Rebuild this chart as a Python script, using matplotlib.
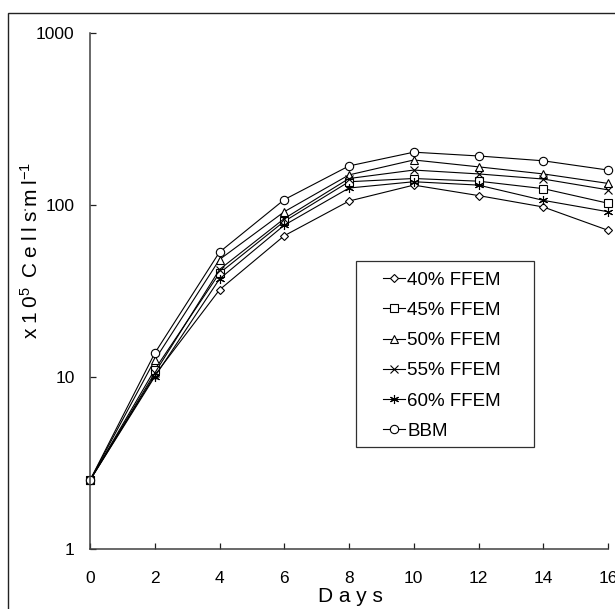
import matplotlib
matplotlib.use('Agg')
import matplotlib.pyplot as plt
from matplotlib.patches import Rectangle
from matplotlib.ticker import FixedLocator, NullLocator, FixedFormatter

plt.rcParams['font.family'] = ['Liberation Sans', 'DejaVu Sans']
plt.rcParams['mathtext.fontset'] = 'custom'
plt.rcParams['mathtext.rm'] = 'Liberation Sans'
plt.rcParams['mathtext.it'] = 'Liberation Sans'

# growth data (x10^5 cells per ml)
days = [0, 2, 4, 6, 8, 10, 12, 14, 16]
ffem40 = [2.5, 10.2, 32, 66, 105, 130, 113, 97, 71]
ffem45 = [2.5, 11.0, 40, 80, 136, 142, 137, 124, 102]
ffem50 = [2.5, 12.5, 48, 91, 149, 182, 166, 151, 133]
ffem55 = [2.5, 10.5, 42, 83, 142, 159, 151, 141, 122]
ffem60 = [2.5, 10.0, 37, 76, 125, 136, 130, 106, 91]
bbm = [2.5, 13.7, 53, 107, 168, 202, 192, 180, 159]

labels = ['40% FFEM', '45% FFEM', '50% FFEM', '55% FFEM', '60% FFEM', 'BBM']
series = [ffem40, ffem45, ffem50, ffem55, ffem60, bbm]
markers = ['D', 's', '^', 'x', (6, 2, 0), 'o']
msizes = [4.5, 5.5, 5.5, 6, 6.5, 6]

W, H = 615, 609
fig = plt.figure(figsize=(W / 100, H / 100), dpi=100)
fig.patch.set_facecolor('white')

# outer frame
fig.patches.append(Rectangle((7.5 / W, -0.1), 1.2, 1.1 - 13.5 / H,
                             transform=fig.transFigure, fill=False,
                             edgecolor='#222222', linewidth=1.0))

ax = fig.add_axes([90 / W, (H - 548.7) / H, (608 - 90) / W, (548.7 - 32.7) / H])

handles = []
for vals, lab, m, ms in zip(series, labels, markers, msizes):
    h, = ax.plot(days, vals, color='black', linewidth=0.8, marker=m,
                 markersize=ms, markerfacecolor='white',
                 markeredgecolor='black', markeredgewidth=0.8,
                 label=lab, clip_on=False)
    handles.append(h)

ax.set_yscale('log')
ax.set_ylim(1, 1000)
ax.set_xlim(0, 16)
ax.yaxis.set_major_locator(FixedLocator([1, 10, 100, 1000]))
ax.yaxis.set_major_formatter(FixedFormatter(['1', '10', '100', '1000']))
ax.yaxis.set_minor_locator(NullLocator())
ax.set_xticks(days)
ax.set_xticklabels([str(d) for d in days])

for s in ['top', 'right']:
    ax.spines[s].set_visible(False)
for s in ['left', 'bottom']:
    ax.spines[s].set_color('#404040')
    ax.spines[s].set_linewidth(1.1)

ax.tick_params(axis='both', direction='in', length=4, width=0.9,
               color='#202020', labelsize=12.5)
ax.tick_params(axis='x', pad=16)
ax.tick_params(axis='y', pad=11)

fig.text(350.7 / W, 1 - 596 / H, 'D a y s', fontsize=15,
         ha='center', va='center')
fig.text(31 / W, 1 - 250 / H,
         r'x$\;$1$\;$0$^{5}\;\;$C$\;$e$\;$l$\;$l$\;$s$^{\cdot}$m$\;$l$^{-1}$',
         fontsize=15, rotation=90, ha='center', va='center')

# legend box and entries
fig.patches.append(Rectangle((355.7 / W, 1 - 446.5 / H), (534 - 355.7) / W,
                             (446.5 - 260.7) / H, transform=fig.transFigure,
                             fill=True, facecolor='white',
                             edgecolor='#303030', linewidth=0.9, zorder=5))
leg = fig.legend(handles=handles, loc='upper left',
                 bbox_to_anchor=(383 / W, 1 - 271.5 / H), frameon=False,
                 fontsize=13.5, handlelength=1.17, handletextpad=0.12,
                 labelspacing=0.70, borderaxespad=0, borderpad=0)
leg.set_zorder(6)

fig.savefig('out.png', dpi=100)
